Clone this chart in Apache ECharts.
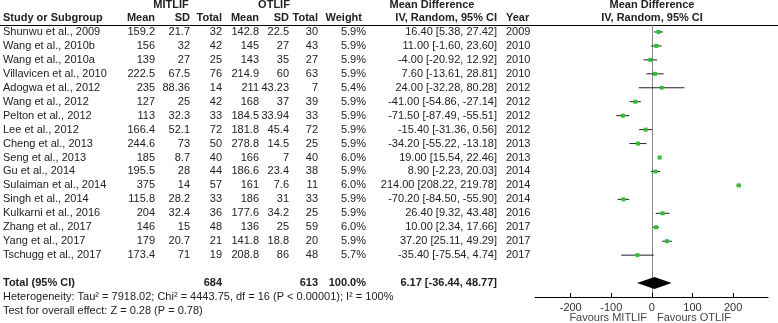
<!DOCTYPE html>
<html>
<head>
<meta charset="utf-8">
<script src="https://cdn.jsdelivr.net/npm/echarts@6/dist/echarts.min.js"></script>
<style>
  html, body { margin: 0; padding: 0; background: #fff; }
  #main { width: 778px; height: 323px; }
</style>
</head>
<body>
<div id="main"></div>
<script>
// study data
const studies = ["Shunwu et al., 2009", "Wang et al., 2010b", "Wang et al., 2010a", "Villavicen et al., 2010",
  "Adogwa et al., 2012", "Wang et al., 2012", "Pelton et al., 2012", "Lee et al., 2012", "Cheng et al., 2013",
  "Seng et al., 2013", "Gu et al., 2014", "Sulaiman et al., 2014", "Singh et al., 2014", "Kulkarni et al., 2016",
  "Zhang et al., 2017", "Yang et al., 2017", "Tschugg et al., 2017"];
const mitMean = ["159.2", "156", "139", "222.5", "235", "127", "113", "166.4", "244.6", "185", "195.5", "375", "115.8", "204", "146", "179", "173.4"];
const mitSD = ["21.7", "32", "27", "67.5", "88.36", "25", "32.3", "52.1", "73", "8.7", "28", "14", "28.2", "32.4", "15", "20.7", "71"];
const mitN = [32, 42, 25, 76, 14, 42, 33, 72, 50, 40, 44, 57, 33, 36, 48, 21, 19];
const otMean = ["142.8", "145", "143", "214.9", "211", "168", "184.5", "181.8", "278.8", "166", "186.6", "161", "186", "177.6", "136", "141.8", "208.8"];
const otSD = ["22.5", "27", "35", "60", "43.23", "37", "33.94", "45.4", "14.5", "7", "23.4", "7.6", "31", "34.2", "25", "18.8", "86"];
const otN = [30, 43, 27, 63, 7, 39, 33, 72, 25, 40, 38, 11, 33, 25, 59, 20, 48];
const weights = [5.9, 5.9, 5.9, 5.9, 5.4, 5.9, 5.9, 5.9, 5.9, 6.0, 5.9, 6.0, 5.9, 5.9, 6.0, 5.9, 5.7];
const md = [16.40, 11.00, -4.00, 7.60, 24.00, -41.00, -71.50, -15.40, -34.20, 19.00, 8.90, 214.00, -70.20, 26.40, 10.00, 37.20, -35.40];
const ciLow = [5.38, -1.60, -20.92, -13.61, -32.28, -54.86, -87.49, -31.36, -55.22, 15.54, -2.23, 208.22, -84.50, 9.32, 2.34, 25.11, -75.54];
const ciHigh = [27.42, 23.60, 12.92, 28.81, 80.28, -27.14, -55.51, 0.56, -13.18, 22.46, 20.03, 219.78, -55.90, 43.48, 17.66, 49.29, 4.74];
const years = [2009, 2010, 2010, 2010, 2012, 2012, 2012, 2012, 2013, 2013, 2014, 2014, 2014, 2016, 2017, 2017, 2017];

// pooled result
const total = { mitN: 684, otN: 613, weight: 100.0, md: 6.17, low: -36.44, high: 48.77 };
const heterogeneity = "Heterogeneity: Tau\u00b2 = 7918.02; Chi\u00b2 = 4443.75, df = 16 (P < 0.00001); I\u00b2 = 100%";
const overallTest = "Test for overall effect: Z = 0.28 (P = 0.78)";
const axisTicks = [-200, -100, 0, 100, 200];

const totalRow = 18;
const font = '11px "Liberation Sans", Arial, sans-serif';
const boldFont = 'bold 11px "Liberation Sans", Arial, sans-serif';
const textColor = "#222";

function fmt(v) { return v.toFixed(2); }
function ciText(m, l, h) { return fmt(m) + " [" + fmt(l) + ", " + fmt(h) + "]"; }

// table cells: [x, row, text, align, bold]
const cells = [];
function cell(x, row, text, align, bold) { cells.push({ value: [x, row], text: String(text), align: align, bold: !!bold }); }

// header lines
cell(171, -1.93, "MITLIF", "center", true);
cell(274, -1.93, "OTLIF", "center", true);
cell(432, -1.93, "Mean Difference", "center", true);
cell(652, -1.93, "Mean Difference", "center", true);
cell(3, -1, "Study or Subgroup", "left", true);
cell(155, -1, "Mean", "right", true);
cell(190, -1, "SD", "right", true);
cell(222, -1, "Total", "right", true);
cell(259, -1, "Mean", "right", true);
cell(289, -1, "SD", "right", true);
cell(318, -1, "Total", "right", true);
cell(362, -1, "Weight", "right", true);
cell(497, -1, "IV, Random, 95% CI", "right", true);
cell(506, -1, "Year", "left", true);
cell(652, -1, "IV, Random, 95% CI", "center", true);

studies.forEach(function (s, i) {
  cell(3, i, s, "left");
  cell(155, i, mitMean[i], "right");
  cell(190, i, mitSD[i], "right");
  cell(222, i, mitN[i], "right");
  cell(259, i, otMean[i], "right");
  cell(289, i, otSD[i], "right");
  cell(318, i, otN[i], "right");
  cell(366, i, weights[i].toFixed(1) + "%", "right");
  cell(497, i, ciText(md[i], ciLow[i], ciHigh[i]), "right");
  cell(506, i, years[i], "left");
});

cell(3, totalRow, "Total (95% CI)", "left", true);
cell(222, totalRow, total.mitN, "right", true);
cell(318, totalRow, total.otN, "right", true);
cell(366, totalRow, total.weight.toFixed(1) + "%", "right", true);
cell(497, totalRow, ciText(total.md, total.low, total.high), "right", true);
cell(3, 19, heterogeneity, "left");
cell(3, 20, overallTest, "left");

const studyPoints = studies.map(function (s, i) { return [md[i], i, ciLow[i], ciHigh[i], weights[i]]; });

const option = {
  animation: false,
  grid: [
    { left: 0, right: 0, top: 25, height: 272 },
    { left: 535, width: 233, top: 25, height: 272 }
  ],
  xAxis: [
    { gridIndex: 0, type: "value", min: 0, max: 778, show: false },
    {
      gridIndex: 1, type: "value", min: -288, max: 286,
      axisLine: { onZero: false, lineStyle: { color: "#000", width: 1 } },
      axisTick: { inside: true, length: 4, customValues: axisTicks, lineStyle: { color: "#000" } },
      axisLabel: { customValues: axisTicks, margin: 5, color: "#333", fontSize: 11, fontFamily: "Liberation Sans" },
      splitLine: { show: false }
    }
  ],
  yAxis: [
    { gridIndex: 0, type: "value", min: -0.5, max: 19, inverse: true, show: false },
    {
      gridIndex: 1, type: "value", min: -0.5, max: 19, inverse: true,
      axisLine: { show: true, onZero: true, lineStyle: { color: "#888", width: 1 } },
      axisTick: { show: false }, axisLabel: { show: false }, splitLine: { show: false }
    }
  ],
  series: [
    {
      type: "custom", xAxisIndex: 0, yAxisIndex: 0, clip: false, silent: true,
      data: cells,
      renderItem: function (params, api) {
        const d = cells[params.dataIndex];
        const p = api.coord([api.value(0), api.value(1)]);
        return {
          type: "text", x: p[0], y: p[1],
          style: {
            text: d.text, font: d.bold ? boldFont : font, fill: textColor,
            align: d.align, verticalAlign: "middle", textAlign: d.align, textVerticalAlign: "middle"
          }
        };
      }
    },
    {
      // study effect sizes with confidence intervals
      type: "custom", xAxisIndex: 1, yAxisIndex: 1, clip: false, silent: true,
      data: studyPoints,
      renderItem: function (params, api) {
        const c = api.coord([api.value(0), api.value(1)]);
        const l = api.coord([api.value(2), api.value(1)]);
        const h = api.coord([api.value(3), api.value(1)]);
        const s = 4 * Math.sqrt(api.value(4) / 6);
        return {
          type: "group",
          children: [
            { type: "line", shape: { x1: l[0], y1: c[1], x2: h[0], y2: c[1] }, style: { stroke: "#222", lineWidth: 1 } },
            { type: "rect", shape: { x: c[0] - s / 2, y: c[1] - s / 2, width: s, height: s }, style: { fill: "#2fbf2f" } }
          ]
        };
      }
    },
    {
      // pooled diamond
      type: "custom", xAxisIndex: 1, yAxisIndex: 1, clip: false, silent: true,
      data: [[total.md, totalRow, total.low, total.high]],
      renderItem: function (params, api) {
        const c = api.coord([api.value(0), api.value(1)]);
        const l = api.coord([api.value(2), api.value(1)]);
        const h = api.coord([api.value(3), api.value(1)]);
        return {
          type: "polygon",
          shape: { points: [[l[0], c[1]], [c[0], c[1] - 6], [h[0], c[1]], [c[0], c[1] + 6]] },
          style: { fill: "#000" }
        };
      }
    }
  ],
  graphic: [
    { type: "line", shape: { x1: 0, y1: 25.5, x2: 778, y2: 25.5 }, style: { stroke: "#000", lineWidth: 1 } },
    { type: "text", x: 647, y: 318, style: { text: "Favours MITLIF", font: font, fill: "#444", align: "right", verticalAlign: "middle", textAlign: "right", textVerticalAlign: "middle" } },
    { type: "text", x: 657, y: 318, style: { text: "Favours OTLIF", font: font, fill: "#444", align: "left", verticalAlign: "middle", textAlign: "left", textVerticalAlign: "middle" } }
  ]
};

const myChart = echarts.init(document.getElementById("main"));
myChart.setOption(option);
</script>
</body>
</html>
